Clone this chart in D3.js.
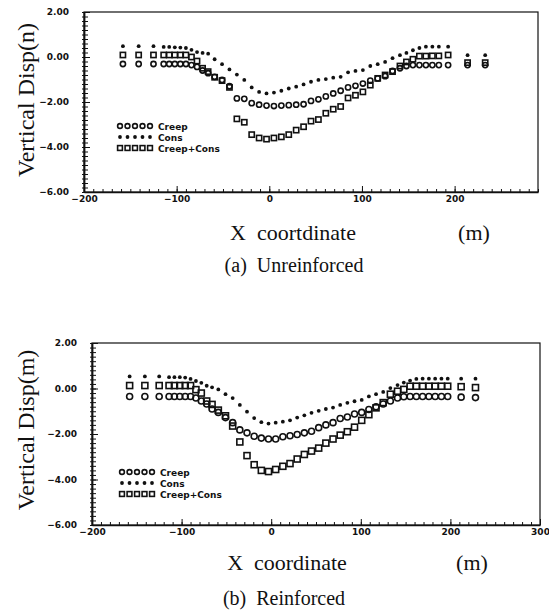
<!DOCTYPE html>
<html>
<head>
<meta charset="utf-8">
<script src="https://cdn.jsdelivr.net/npm/d3@7"></script>
<style>
  body { margin: 0; background: #fff; }
  .tick text { font-family: "DejaVu Sans", sans-serif; font-weight: bold; font-size: 9px; fill: #111; }
  .serif { font-family: "Liberation Serif", "Times New Roman", serif; fill: #111; }
  .leg { font-family: "DejaVu Sans", sans-serif; font-weight: bold; font-size: 9px; fill: #111; }
</style>
</head>
<body>
<svg id="chart" width="549" height="614"></svg>
<script>
const seriesNames = ['Creep', 'Cons', 'Creep+Cons'];
const yTicks = [2, 0, -2, -4, -6];
const xTicksA = [-200, -100, 0, 100, 200];
const xTicksB = [-200, -100, 0, 100, 200, 300];

// node positions (m)
const xA = [-158, -141, -125, -114, -108, -102, -96, -90, -84, -78, -72, -66,
  -59, -51, -43, -35, -27, -19, -11, -3,
  5, 13, 21, 29, 37, 45, 53, 61, 69, 77, 85, 93, 101, 109, 117, 125, 133, 141,
  148, 155, 162, 169, 176, 183, 193, 214, 233];
const xB = [-158, -141, -125, -114, -108, -102, -96, -90, -84, -78, -72, -66,
  -59, -51, -43, -35, -27, -19, -11, -3,
  5, 13, 21, 29, 37, 45, 53, 61, 69, 77, 85, 93, 101, 109, 117, 125, 133, 141,
  148, 155, 162, 169, 176, 183, 190, 197, 212, 228];

// (a) unreinforced
const creepA = [-0.31, -0.31, -0.31, -0.31, -0.31, -0.31, -0.31, -0.31, -0.36, -0.44, -0.60, -0.72,
  -0.88, -1.02, -1.30, -1.84, -1.86, -2.05, -2.12, -2.16,
  -2.18, -2.16, -2.14, -2.12, -2.10, -1.95, -1.88, -1.75, -1.62, -1.50, -1.35, -1.28, -1.18, -1.05, -0.95, -0.85, -0.62, -0.50,
  -0.40, -0.36, -0.36, -0.36, -0.36, -0.36, -0.36, -0.36, -0.36];
const consA = [0.48, 0.48, 0.48, 0.45, 0.45, 0.43, 0.42, 0.40, 0.32, 0.22, 0.18, 0.15,
  -0.10, -0.32, -0.55, -0.78, -1.02, -1.35, -1.55, -1.62,
  -1.58, -1.50, -1.40, -1.32, -1.22, -1.10, -1.02, -0.98, -0.92, -0.88, -0.68, -0.62, -0.58, -0.40, -0.32, -0.22, -0.05, 0.08,
  0.18, 0.30, 0.40, 0.46, 0.46, 0.46, 0.46, 0.08, 0.08];
const bothA = [0.09, 0.09, 0.09, 0.09, 0.09, 0.09, 0.09, 0.09, 0.00, -0.18, -0.50, -0.65,
  -0.90, -1.05, -1.35, -2.75, -2.90, -3.45, -3.60, -3.65,
  -3.60, -3.55, -3.45, -3.25, -3.10, -2.85, -2.78, -2.50, -2.32, -2.20, -1.82, -1.70, -1.55, -1.25, -0.95, -0.80, -0.65, -0.40,
  -0.22, -0.10, 0.04, 0.04, 0.05, 0.05, 0.09, -0.25, -0.25];

// (b) reinforced
const creepB = [-0.35, -0.35, -0.35, -0.35, -0.35, -0.35, -0.35, -0.35, -0.42, -0.55, -0.68, -0.90,
  -1.05, -1.28, -1.50, -1.82, -1.95, -2.10, -2.18, -2.22,
  -2.22, -2.12, -2.08, -2.02, -1.95, -1.88, -1.72, -1.60, -1.50, -1.32, -1.25, -1.12, -1.05, -0.92, -0.80, -0.68, -0.55, -0.42,
  -0.36, -0.35, -0.35, -0.35, -0.35, -0.35, -0.35, -0.35, -0.38, -0.40];
const consB = [0.53, 0.53, 0.53, 0.50, 0.50, 0.50, 0.48, 0.42, 0.33, 0.25, 0.12, 0.05,
  -0.04, -0.25, -0.42, -0.72, -1.02, -1.30, -1.48, -1.54,
  -1.50, -1.46, -1.40, -1.28, -1.18, -1.07, -0.98, -0.90, -0.84, -0.72, -0.63, -0.56, -0.50, -0.35, -0.25, -0.15, 0.02, 0.15,
  0.26, 0.35, 0.42, 0.43, 0.43, 0.43, 0.43, 0.43, 0.43, 0.43];
const bothB = [0.13, 0.13, 0.13, 0.13, 0.13, 0.13, 0.13, 0.13, -0.05, -0.20, -0.55, -0.70,
  -0.95, -1.20, -1.65, -2.35, -2.95, -3.35, -3.60, -3.65,
  -3.56, -3.42, -3.30, -3.10, -2.90, -2.75, -2.62, -2.40, -2.22, -2.05, -1.90, -1.70, -1.40, -1.15, -0.85, -0.62, -0.25, -0.12,
  -0.04, 0.10, 0.10, 0.10, 0.10, 0.10, 0.10, 0.10, 0.08, 0.04];

const svg = d3.select('#chart');
const ink = '#111';

const drawMarker = (g, kind, x, y, size) => {
  if (kind === 'Creep') {
    g.append('circle').attr('cx', x).attr('cy', y).attr('r', size)
      .attr('fill', 'none').attr('stroke', ink).attr('stroke-width', 1.6);
  } else if (kind === 'Cons') {
    g.append('circle').attr('cx', x).attr('cy', y).attr('r', 1.9).attr('fill', ink);
  } else {
    g.append('rect').attr('x', x - size).attr('y', y - size)
      .attr('width', size * 2).attr('height', size * 2)
      .attr('fill', 'none').attr('stroke', ink).attr('stroke-width', 1.6);
  }
};

const panel = (cfg) => {
  const x = d3.scaleLinear().domain(cfg.xDomain).range([cfg.left, cfg.right]);
  const y = d3.scaleLinear().domain([-6, 2]).range([cfg.bottom, cfg.top]);
  const g = svg.append('g');

  // frame
  g.append('rect').attr('x', cfg.left).attr('y', cfg.top)
    .attr('width', cfg.right - cfg.left).attr('height', cfg.bottom - cfg.top)
    .attr('fill', 'none').attr('stroke', ink).attr('stroke-width', 1.2);

  // minor ticks
  g.append('g').attr('transform', `translate(0,${cfg.bottom})`)
    .call(d3.axisBottom(x).tickValues(d3.range(cfg.xDomain[0], cfg.xDomain[1] + 1, 10)).tickSize(-3).tickFormat(''))
    .call(a => a.select('.domain').remove());
  g.append('g').attr('transform', `translate(${cfg.left},0)`)
    .call(d3.axisLeft(y).tickValues(d3.range(-6, 2.01, 0.2)).tickSize(-4).tickFormat(''))
    .call(a => a.select('.domain').remove());
  g.append('g').attr('transform', `translate(${cfg.left},0)`)
    .call(d3.axisLeft(y).tickValues(d3.range(-6, 2.01, 0.2)).tickSize(2).tickFormat(''))
    .call(a => a.select('.domain').remove());

  // major axes
  g.append('g').attr('transform', `translate(0,${cfg.bottom})`)
    .call(d3.axisBottom(x).tickValues(cfg.xTicks).tickSizeInner(-6).tickSizeOuter(0).tickPadding(4).tickFormat(d3.format('d')))
    .call(a => a.select('.domain').attr('stroke-width', 1.6));
  g.append('g').attr('transform', `translate(${cfg.left},0)`)
    .call(d3.axisLeft(y).tickValues(yTicks).tickSizeInner(-6).tickSizeOuter(0).tickPadding(15).tickFormat(d3.format('.2f')))
    .call(a => a.select('.domain').attr('stroke-width', 1.8));
  g.selectAll('.tick line').attr('stroke', ink);
  g.selectAll('.domain').attr('stroke', ink);

  // data points
  const pts = g.append('g');
  cfg.series.forEach((s) => {
    s.values.forEach((v, i) => drawMarker(pts, s.name, x(cfg.xs[i]), y(v), cfg.size));
  });

  // legend
  const leg = g.append('g');
  seriesNames.forEach((name, i) => {
    const ly = cfg.legY + i * 11;
    d3.range(5).forEach((k) => drawMarker(leg, name, cfg.legX + k * 7.5, ly, 2.4));
    leg.append('text').attr('class', 'leg').attr('x', cfg.legX + 38).attr('y', ly + 3.5).text(name);
  });

  // titles
  g.append('text').attr('class', 'serif')
    .attr('transform', `translate(${cfg.yTitleX},${cfg.yTitleY}) rotate(-90)`)
    .attr('text-anchor', 'middle').attr('font-size', 24).text(cfg.yTitle);
  g.append('text').attr('class', 'serif').attr('x', cfg.xTitleX).attr('y', cfg.xTitleY)
    .attr('text-anchor', 'middle').attr('font-size', 22).attr('xml:space', 'preserve').text(cfg.xTitle);
  g.append('text').attr('class', 'serif').attr('x', cfg.unitX).attr('y', cfg.xTitleY)
    .attr('text-anchor', 'middle').attr('font-size', 22).text('(m)');
  g.append('text').attr('class', 'serif').attr('x', cfg.capX).attr('y', cfg.capY)
    .attr('text-anchor', 'middle').attr('font-size', 20).attr('xml:space', 'preserve').text(cfg.caption);
};

panel({
  left: 84, right: 538, top: 12, bottom: 192, xDomain: [-200, 290], xTicks: xTicksA,
  xs: xA, size: 2.6,
  series: [
    { name: 'Creep', values: creepA },
    { name: 'Cons', values: consA },
    { name: 'Creep+Cons', values: bothA },
  ],
  legX: 120, legY: 126,
  yTitle: 'Vertical  Disp(n)', yTitleX: 34, yTitleY: 100,
  xTitle: 'X  coortdinate', xTitleX: 293, xTitleY: 240, unitX: 474,
  caption: '(a)  Unreinforced', capX: 294, capY: 272,
});

panel({
  left: 92, right: 540, top: 343, bottom: 525, xDomain: [-200, 300], xTicks: xTicksB,
  xs: xB, size: 3,
  series: [
    { name: 'Creep', values: creepB },
    { name: 'Cons', values: consB },
    { name: 'Creep+Cons', values: bothB },
  ],
  legX: 122, legY: 472,
  yTitle: 'Vertical  Disp(m)', yTitleX: 34, yTitleY: 430,
  xTitle: 'X  coordinate', xTitleX: 287, xTitleY: 570, unitX: 472,
  caption: '(b)  Reinforced', capX: 284, capY: 605,
});
</script>
</body>
</html>
